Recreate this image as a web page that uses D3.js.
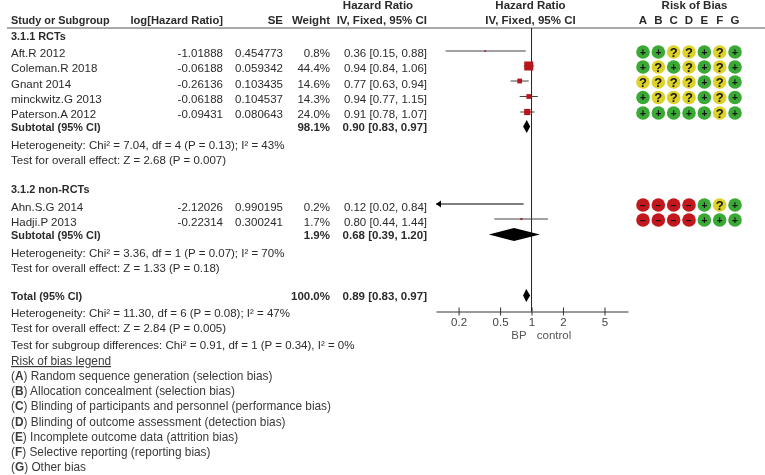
<!DOCTYPE html>
<html>
<head>
<meta charset="utf-8">
<script src="https://cdn.jsdelivr.net/npm/d3@7"></script>
<style>
  html, body { margin: 0; padding: 0; background: #fff; }
  svg { display: block; filter: blur(0.3px); }
  text { font-family: "Liberation Sans", Arial, sans-serif; font-size: 11.5px; fill: #2b2b2b; }
  .b { font-weight: 700; }
  .n { font-size: 10.9px; }
  .m { font-size: 11.2px; }
  .leg { font-size: 11.85px; fill: #3a3a3a; }
</style>
</head>
<body>
<div id="chart"></div>
<script>
var w = 765;
var h = 475;

// study rows
var studies = ["Aft.R 2012", "Coleman.R 2018", "Gnant 2014", "minckwitz.G 2013", "Paterson.A 2012", "Ahn.S.G 2014", "Hadji.P 2013"];
var logHR = ["-1.01888", "-0.06188", "-0.26136", "-0.06188", "-0.09431", "-2.12026", "-0.22314"];
var se = ["0.454773", "0.059342", "0.103435", "0.104537", "0.080643", "0.990195", "0.300241"];
var weights = [0.8, 44.4, 14.6, 14.3, 24.0, 0.2, 1.7];
var hr = [0.36, 0.94, 0.77, 0.94, 0.91, 0.12, 0.80];
var hrLow = [0.15, 0.84, 0.63, 0.77, 0.78, 0.02, 0.44];
var hrHigh = [0.88, 1.06, 0.94, 1.15, 1.07, 0.84, 1.44];
var bias = ["++??+?+", "+?+?+?+", "????+?+", "+???+?+", "+++++?+", "----+?+", "----+++"];

// pooled rows
var pooledNames = ["Subtotal (95% CI)", "Subtotal (95% CI)", "Total (95% CI)"];
var pooledWeights = ["98.1%", "1.9%", "100.0%"];
var pooledHr = [0.90, 0.68, 0.89];
var pooledLow = [0.83, 0.39, 0.83];
var pooledHigh = [0.97, 1.20, 0.97];

var biasDomains = ["A", "B", "C", "D", "E", "F", "G"];
var ticks = [0.2, 0.5, 1, 2, 5];

var legendLetters = ["A", "B", "C", "D", "E", "F", "G"];
var legendText = [
  "Random sequence generation (selection bias)",
  "Allocation concealment (selection bias)",
  "Blinding of participants and personnel (performance bias)",
  "Blinding of outcome assessment (detection bias)",
  "Incomplete outcome data (attrition bias)",
  "Selective reporting (reporting bias)",
  "Other bias"
];

// layout: row centre for each study / pooled row
var studyY = [53, 68, 84, 99, 114, 207, 222];
var markY = [52, 67, 82, 97.5, 113, 205, 220];
var pooledY = [127, 235, 296];
var notes = [
  ["3.1.1 RCTs", 36, true],
  ["Heterogeneity: Chi\u00b2 = 7.04, df = 4 (P = 0.13); I\u00b2 = 43%", 145],
  ["Test for overall effect: Z = 2.68 (P = 0.007)", 160],
  ["3.1.2 non-RCTs", 189, true],
  ["Heterogeneity: Chi\u00b2 = 3.36, df = 1 (P = 0.07); I\u00b2 = 70%", 253],
  ["Test for overall effect: Z = 1.33 (P = 0.18)", 268],
  ["Heterogeneity: Chi\u00b2 = 11.30, df = 6 (P = 0.08); I\u00b2 = 47%", 313],
  ["Test for overall effect: Z = 2.84 (P = 0.005)", 328],
  ["Test for subgroup differences: Chi\u00b2 = 0.91, df = 1 (P = 0.34), I\u00b2 = 0%", 345]
];

var fmt = d3.format(".2f");
function ci(m, l, u) { return fmt(m) + " [" + fmt(l) + ", " + fmt(u) + "]"; }

var svg = d3.select("#chart").append("svg").attr("width", w).attr("height", h);

function label(x, y, str, anchor, cls) {
  return svg.append("text")
    .attr("x", x)
    .attr("y", y + 4)
    .attr("text-anchor", anchor || "start")
    .attr("class", cls === true ? "b" : cls || null)
    .text(str);
}

// log scale for the forest plot
var x = d3.scaleLog().domain([0.1215, 8.4]).range([436, 628]);
var size = d3.scalePow().exponent(0.7).domain([0, 44.4]).range([1.2, 9]);
var biasX = d3.scalePoint().domain(biasDomains).range([643, 735]);
var biasColor = d3.scaleOrdinal().domain(["+", "?", "-"]).range(["#3aa935", "#dcd229", "#c1171d"]);

// headers
label(378, 5, "Hazard Ratio", "middle", true);
label(530.5, 5, "Hazard Ratio", "middle", true);
label(694.5, 5, "Risk of Bias", "middle", true);
label(11, 20, "Study or Subgroup", "start", "b n");
label(223, 20, "log[Hazard Ratio]", "end", "b m");
label(283, 20, "SE", "end", true);
label(330, 20, "Weight", "end", true);
label(427, 20, "IV, Fixed, 95% CI", "end", true);
label(530.5, 20, "IV, Fixed, 95% CI", "middle", true);
biasDomains.forEach(function (d) { label(biasX(d), 20, d, "middle", true); });

svg.append("line").attr("x1", 7).attr("x2", 765).attr("y1", 28).attr("y2", 28)
   .attr("stroke", "#555").attr("stroke-width", 1);

// notes and subgroup titles
notes.forEach(function (n) { label(11, n[1], n[0], "start", n[2] ? "b n" : null); });

// study table
studies.forEach(function (s, i) {
  label(11, studyY[i], s);
  label(223, studyY[i], logHR[i], "end");
  label(283, studyY[i], se[i], "end");
  label(330, studyY[i], d3.format(".1f")(weights[i]) + "%", "end");
  label(427, studyY[i], ci(hr[i], hrLow[i], hrHigh[i]), "end");
});

pooledNames.forEach(function (s, i) {
  label(11, pooledY[i], s, "start", "b n");
  label(330, pooledY[i], pooledWeights[i], "end", true);
  label(427, pooledY[i], ci(pooledHr[i], pooledLow[i], pooledHigh[i]), "end", true);
});

// axis
var axis = d3.axisBottom(x).tickValues(ticks).tickFormat(d3.format("")).tickSize(4).tickSizeOuter(0);
var gAxis = svg.append("g").attr("transform", "translate(0,311.5)").call(axis);
gAxis.select(".domain").attr("stroke", "#333");
gAxis.selectAll(".tick line").attr("y1", -4).attr("stroke", "#333");
gAxis.selectAll(".tick text").attr("y", 6).style("font-size", "11.5px").style("font-family", '"Liberation Sans"').style("fill", "#444");

label(519, 335, "BP", "middle").style("fill", "#555");
label(554, 335, "control", "middle").style("fill", "#555");

// null line
svg.append("line").attr("x1", x(1)).attr("x2", x(1)).attr("y1", 28).attr("y2", 311.5)
   .attr("stroke", "#222").attr("stroke-width", 1);

// confidence intervals
studies.forEach(function (s, i) {
  var clipped = hrLow[i] < x.domain()[0];
  svg.append("line")
     .attr("x1", x(Math.max(hrLow[i], x.domain()[0])))
     .attr("x2", x(hrHigh[i]))
     .attr("y1", markY[i] - 1)
     .attr("y2", markY[i] - 1)
     .attr("stroke", clipped ? "#000" : "#444")
     .attr("stroke-width", 1);
  if (clipped) {
    var ax = x(x.domain()[0]);
    svg.append("path")
       .attr("d", d3.line()([[ax, markY[i] - 1], [ax + 5, markY[i] - 4.5], [ax + 5, markY[i] + 2.5]]))
       .attr("fill", "#000");
  } else {
    var sz = size(weights[i]);
    svg.append("rect")
       .attr("x", x(hr[i]) - sz / 2)
       .attr("y", markY[i] - 1 - sz / 2)
       .attr("width", sz)
       .attr("height", sz)
       .attr("fill", "#b5171c");
  }
});

// diamonds
pooledHr.forEach(function (m, i) {
  var cy = pooledY[i] - 0.5;
  var half = 6.5;
  svg.append("path")
     .attr("d", d3.line()([[x(pooledLow[i]), cy], [x(m), cy - half], [x(pooledHigh[i]), cy], [x(m), cy + half]]) + "Z")
     .attr("fill", "#000");
});

// risk of bias dots
bias.forEach(function (row, i) {
  row.split("").forEach(function (v, j) {
    var cx = biasX(biasDomains[j]);
    svg.append("circle")
       .attr("cx", cx)
       .attr("cy", markY[i])
       .attr("r", 6.8)
       .attr("fill", biasColor(v));
    svg.append("text")
       .attr("x", cx)
       .attr("y", markY[i] + (v === "?" ? 4.5 : 3.5))
       .attr("text-anchor", "middle")
       .attr("class", "b")
       .style("font-size", v === "?" ? "13px" : "10px")
       .style("fill", "#111")
       .text(v === "-" ? "\u2212" : v);
  });
});

// legend
label(11, 361, "Risk of bias legend", "start", "leg").attr("text-decoration", "underline");
legendText.forEach(function (t, i) {
  var row = svg.append("text").attr("class", "leg").attr("x", 11).attr("y", 376 + i * 15.2 + 4);
  row.append("tspan").text("(");
  row.append("tspan").attr("class", "b").text(legendLetters[i]);
  row.append("tspan").text(") " + t);
});
</script>
</body>
</html>
